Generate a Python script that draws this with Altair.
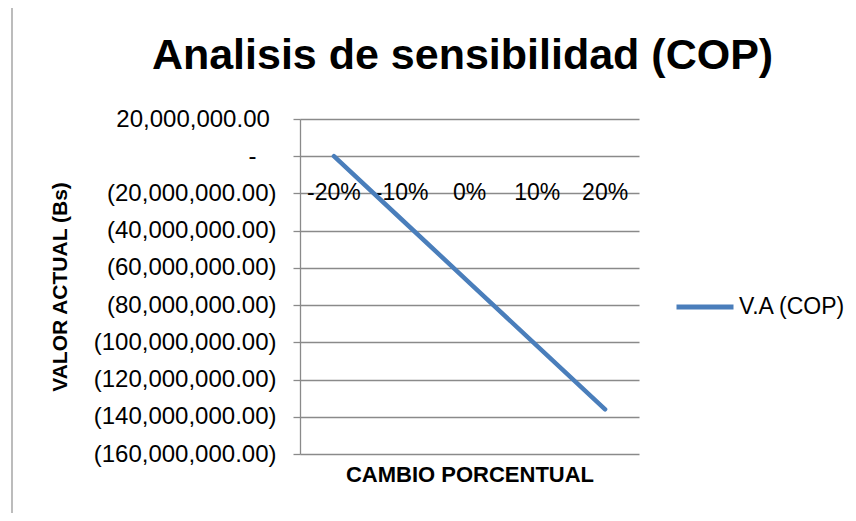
import altair as alt
import pandas as pd

# Data
pct = ["-20%", "-10%", "0%", "10%", "20%"]
va = [0, -34000000, -68000000, -102000000, -136000000]
series_name = "V.A (COP)"
y_ticks = [20000000, 0, -20000000, -40000000, -60000000, -80000000,
           -100000000, -120000000, -140000000, -160000000]

df = pd.DataFrame({"pct": pct, "va": va, "serie": [series_name] * len(pct)})

GRID = "#8a8a8a"
BLUE = "#4A7EBB"
REG = "Liberation Sans"

# Excel accounting style: negatives in parentheses, zero as "-", trailing
# space for non-negative values (zero-width space keeps the padding)
label_expr = (
    "datum.value == 0 ? '-\u00a0\u00a0\u00a0\u200b' : "
    "(datum.value < 0 ? '(' + format(-datum.value, ',.2f') + ')' : "
    "format(datum.value, ',.2f') + '\u00a0\u200b')"
)

x_scale = alt.Scale(type="point", padding=0.5)
y_scale = alt.Scale(domain=[-160000000, 20000000], nice=False, zero=False)

x_axis = alt.Axis(title="CAMBIO PORCENTUAL", labels=False, ticks=False,
                  domain=False, grid=False, titleFont=REG,
                  titleFontSize=22, titleFontWeight="bold",
                  titleColor="#000000", titlePadding=10)
y_axis = alt.Axis(values=y_ticks, title="VALOR ACTUAL (Bs)", grid=True,
                  labelExpr=label_expr, labelFont=REG, labelFontSize=24,
                  labelOverlap=False, labelLimit=400, labelColor="#000000",
                  labelPadding=17, tickSize=7, tickColor=GRID, tickWidth=1.3,
                  domainColor=GRID, domainWidth=1.3, gridColor=GRID,
                  gridWidth=1.3, titleFont=REG, titleFontSize=21,
                  titleFontWeight="bold", titleColor="#000000", titlePadding=30)

frame_df = pd.DataFrame({"k": [0]})
border = alt.Chart(frame_df).mark_rect(
    fill="#ffffff", fillOpacity=0, stroke="#a6a6a6", strokeWidth=1.5
).encode(
    x=alt.value(-288), x2=alt.value(600), y=alt.value(-112), y2=alt.value(450)
)

xlabels = alt.Chart(df).mark_text(fontSize=23, font=REG, color="#000000",
                                  baseline="alphabetic", dy=44).encode(
    x=alt.X("pct:O", sort=pct, scale=x_scale, axis=x_axis),
    y=alt.YDatum(datum=0, type="quantitative", scale=y_scale, axis=y_axis),
    text="pct:N",
)

line = alt.Chart(df).mark_line(strokeWidth=4.5, strokeCap="round").encode(
    x=alt.X("pct:O", sort=pct, scale=x_scale, axis=x_axis),
    y=alt.Y("va:Q", scale=y_scale, axis=y_axis),
    color=alt.Color("serie:N", scale=alt.Scale(domain=[series_name], range=[BLUE]),
                    legend=alt.Legend(title=None, orient="none", legendX=374,
                                      legendY=157, symbolType="stroke",
                                      symbolSize=3249, symbolStrokeWidth=5,
                                      labelFont=REG, labelFontSize=23,
                                      labelColor="#000000", labelOffset=3)),
)

chart = alt.layer(border, xlabels, line).properties(
    width=339,
    height=335,
    autosize=alt.AutoSizeParams(type="none"),
    padding={"left": 292, "top": 111, "right": 209, "bottom": 59},
    title=alt.TitleParams("Analisis de sensibilidad (COP)", font=REG, fontSize=43,
                          fontWeight="bold", color="#000000", anchor="middle",
                          dx=-7, offset=-106, baseline="alphabetic"),
).configure_view(stroke=None)

chart.save("out.html", embed_options={"renderer": "svg", "actions": False})
